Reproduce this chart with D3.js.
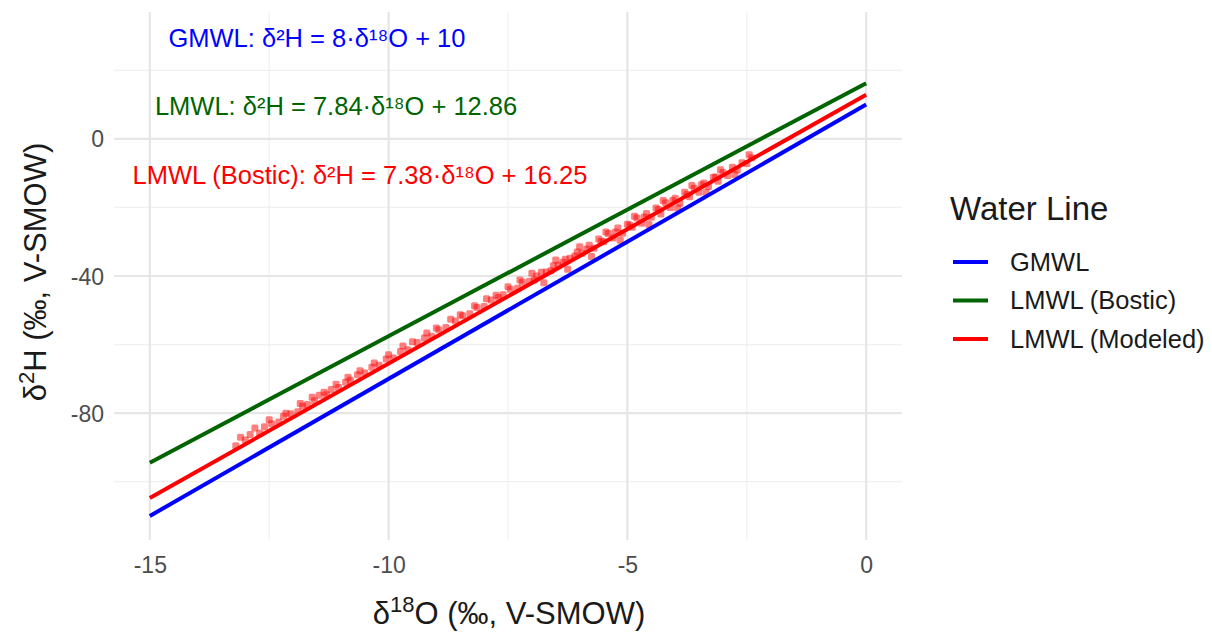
<!DOCTYPE html>
<html>
<head>
<meta charset="utf-8">
<script src="https://cdn.jsdelivr.net/npm/d3@7"></script>
<style>
  body { margin: 0; background: #fff; }
  text { font-family: "Liberation Sans", Arial, sans-serif; }
</style>
</head>
<body>
<svg id="chart"></svg>
<script>
// water lines, endpoints at d18O = -15 and 0
const lineNames = ["GMWL", "LMWL (Bostic)", "LMWL (Modeled)"];
const lineColors = ["blue", "darkgreen", "red"];
const lineX = [-15, 0];
const gmwlY = [-110, 10];
const bosticY = [-94.45, 16.25];
const modeledY = [-104.74, 12.86];

// sample points (d18O, d2H)
const sampleX = [-13.2, -13.0, -12.9, -12.7, -12.6, -12.45, -12.3, -12.2, -12.05, -11.9,
  -11.8, -11.7, -11.55, -11.45, -11.3, -11.2, -11.05, -10.9, -10.8, -10.65,
  -10.5, -10.35, -10.2, -10.05, -9.9, -9.75, -9.6, -9.4, -9.25, -9.1,
  -8.95, -8.8, -8.6, -8.45, -8.3, -8.15, -8.0, -7.85, -7.7, -7.6,
  -7.45, -7.3, -7.2, -7.05, -6.95, -6.8, -6.7, -6.55, -6.45, -6.3,
  -6.2, -6.05, -5.95, -5.8, -5.7, -5.6, -5.5, -5.4, -5.3, -5.2,
  -5.1, -5.0, -4.9, -4.8, -4.7, -4.6, -4.5, -4.4, -4.3, -4.2,
  -4.1, -4.0, -3.9, -3.8, -3.7, -3.6, -3.5, -3.4, -3.3, -3.2,
  -3.1, -3.0, -2.9, -2.8, -2.7, -2.6, -2.5, -2.4,
  -6.9, -6.6, -6.35, -6.1, -5.85, -5.55, -5.25, -4.95, -4.65, -4.35,
  -4.05, -3.75, -3.45, -3.15,
  -13.1, -12.8, -12.5, -12.15, -11.85, -11.6, -11.35, -11.1, -10.85, -10.6,
  -10.3, -10.0, -9.7, -9.5, -9.2, -9.0, -8.7, -8.5, -8.2, -7.95,
  -7.75, -7.5, -7.25, -7.0, -6.75, -6.5, -6.25, -6.0, -5.75, -5.45,
  -5.15, -4.85, -4.55, -4.25, -3.95, -3.65, -3.35, -3.05, -2.75, -2.45];
const sampleY = [-89.5, -87.8, -86.2, -85.9, -84.0, -83.1, -82.6, -80.9, -80.2, -79.6,
  -77.9, -77.5, -76.4, -74.8, -74.6, -73.1, -72.5, -71.0, -70.4, -68.8,
  -68.3, -66.6, -66.0, -64.2, -63.9, -62.0, -61.5, -59.4, -58.1, -57.6,
  -55.7, -55.0, -53.1, -51.6, -51.0, -49.2, -48.9, -47.0, -46.3, -45.5,
  -43.9, -43.6, -41.8, -41.5, -41.2, -38.9, -38.8, -37.0, -36.9, -35.1,
  -34.8, -33.0, -33.4, -31.0, -31.9, -29.2, -30.0, -27.6, -28.9, -26.0,
  -27.5, -24.9, -25.8, -23.1, -24.6, -21.8, -22.9, -20.2, -21.9, -18.6,
  -20.0, -17.3, -18.8, -15.6, -16.9, -14.4, -15.6, -12.9, -13.9, -11.2,
  -12.4, -9.8, -10.7, -8.3, -9.1, -7.0, -7.2, -5.5,
  -40.0, -38.5, -36.0, -34.2, -32.1, -29.9, -27.2, -25.1, -22.8, -20.6,
  -18.0, -16.2, -13.4, -11.1,
  -87.0, -84.3, -81.9, -80.0, -77.2, -75.4, -73.9, -71.6, -69.5, -67.6,
  -65.4, -63.0, -60.4, -59.2, -56.6, -55.2, -52.6, -51.3, -48.7, -46.6,
  -45.6, -43.1, -41.2, -39.2, -42.0, -35.3, -38.0, -31.5, -34.3, -27.2,
  -29.6, -22.6, -25.0, -18.0, -20.2, -13.6, -15.6, -9.0, -10.4, -4.6];

// equation labels
const labelText = ["GMWL: δ²H = 8·δ¹⁸O + 10", "LMWL: δ²H = 7.84·δ¹⁸O + 12.86", "LMWL (Bostic): δ²H = 7.38·δ¹⁸O + 16.25"];
const labelX = [-11.5, -11.1, -10.6];
const labelY = [29.5, 9.5, -10.5];
const labelColors = ["blue", "darkgreen", "red"];

const xTicks = [-15, -10, -5, 0];
const xMinor = [-12.5, -7.5, -2.5];
const yTicks = [-80, -40, 0];
const yMinor = [-100, -60, -20, 20];

const width = 1212, height = 632;
const svg = d3.select("#chart").attr("width", width).attr("height", height);

const x = d3.scaleLinear().domain([-15.75, 0.75]).range([114, 902]);
const y = d3.scaleLinear().domain([-117, 37]).range([540, 12]);

const grid = svg.append("g");
grid.selectAll(".xminor").data(xMinor).enter().append("line")
  .attr("x1", d => x(d)).attr("x2", d => x(d)).attr("y1", 12).attr("y2", 540)
  .attr("stroke", "#f0f0f0").attr("stroke-width", 1.2);
grid.selectAll(".yminor").data(yMinor).enter().append("line")
  .attr("y1", d => y(d)).attr("y2", d => y(d)).attr("x1", 114).attr("x2", 902)
  .attr("stroke", "#f0f0f0").attr("stroke-width", 1.2);
grid.selectAll(".xmajor").data(xTicks).enter().append("line")
  .attr("x1", d => x(d)).attr("x2", d => x(d)).attr("y1", 12).attr("y2", 540)
  .attr("stroke", "#e6e6e6").attr("stroke-width", 2.2);
grid.selectAll(".ymajor").data(yTicks).enter().append("line")
  .attr("y1", d => y(d)).attr("y2", d => y(d)).attr("x1", 114).attr("x2", 902)
  .attr("stroke", "#e6e6e6").attr("stroke-width", 2.2);

// axes, ggplot style hyphen minus
const fmt = d => String(d);
const xAxis = svg.append("g").attr("transform", "translate(0,540)")
  .call(d3.axisBottom(x).tickValues(xTicks).tickSize(0).tickPadding(17).tickFormat(fmt));
const yAxis = svg.append("g").attr("transform", "translate(104,0)")
  .call(d3.axisLeft(y).tickValues(yTicks).tickSize(0).tickPadding(0).tickFormat(fmt));
[xAxis, yAxis].forEach(a => {
  a.select(".domain").remove();
  a.selectAll("text").attr("fill", "#4d4d4d").style("font-size", "23px")
    .style("font-family", "'Liberation Sans', Arial, sans-serif");
});
yAxis.selectAll("text").attr("dy", "0.35em");

// points
svg.append("g").selectAll("rect")
  .data(sampleX.map((d, i) => [d, sampleY[i]]))
  .enter().append("rect")
  .attr("x", d => x(d[0]) - 3.5).attr("y", d => y(d[1]) - 3.5)
  .attr("width", 7).attr("height", 7).attr("rx", 1.5)
  .attr("fill", "red").attr("fill-opacity", 0.5);

// lines
const lineData = [gmwlY, bosticY, modeledY];
const line = d3.line().x(d => x(d[0])).y(d => y(d[1]));
svg.append("g").selectAll("path")
  .data(lineData)
  .enter().append("path")
  .attr("d", ys => line(lineX.map((d, i) => [d, ys[i]])))
  .attr("fill", "none")
  .attr("stroke", (d, i) => lineColors[i])
  .attr("stroke-width", 4);

// equation annotations
svg.append("g").selectAll("text")
  .data(labelText)
  .enter().append("text")
  .attr("x", (d, i) => x(labelX[i])).attr("y", (d, i) => y(labelY[i]))
  .attr("dy", "0.35em")
  .attr("text-anchor", "middle")
  .attr("fill", (d, i) => labelColors[i])
  .style("font-size", "25.5px")
  .text(d => d);

// axis titles
const xt = svg.append("text").attr("x", 509).attr("y", 624)
  .attr("text-anchor", "middle").attr("fill", "#1a1a1a").style("font-size", "31px");
xt.append("tspan").text("δ");
xt.append("tspan").attr("dy", -12).style("font-size", "22px").text("18");
xt.append("tspan").attr("dy", 12).text("O (‰, V-SMOW)");

const yt = svg.append("text").attr("transform", "translate(46,272) rotate(-90)")
  .attr("text-anchor", "middle").attr("fill", "#1a1a1a").style("font-size", "31px");
yt.append("tspan").text("δ");
yt.append("tspan").attr("dy", -12).style("font-size", "22px").text("2");
yt.append("tspan").attr("dy", 12).text("H (‰, V-SMOW)");

// legend
const legend = svg.append("g").attr("transform", "translate(950,0)");
legend.append("text").attr("x", 0).attr("y", 220).attr("fill", "#1a1a1a")
  .style("font-size", "33px").text("Water Line");
lineNames.forEach((name, i) => {
  const ly = 262 + i * 38.5;
  legend.append("line").attr("x1", 3).attr("x2", 38).attr("y1", ly).attr("y2", ly)
    .attr("stroke", lineColors[i]).attr("stroke-width", 4);
  legend.append("text").attr("x", 60).attr("y", ly).attr("dy", "0.35em")
    .attr("fill", "#1a1a1a").style("font-size", "25.5px").text(name);
});
</script>
</body>
</html>
